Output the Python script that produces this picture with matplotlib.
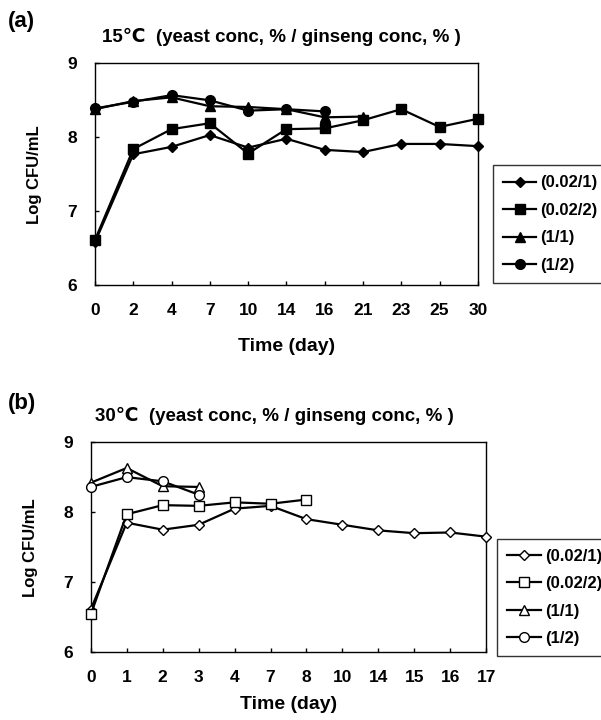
import numpy as np
import matplotlib
matplotlib.use("Agg")
import matplotlib.pyplot as plt

plt.rcParams['font.family'] = ['Liberation Sans', 'DejaVu Sans']
plt.rcParams['font.weight'] = 'bold'

# ---- panel (a): 15 C ----
days_a = ["0", "2", "4", "7", "10", "14", "16", "21", "23", "25", "30"]
a_002_1 = [6.58, 7.77, 7.87, 8.03, 7.86, 7.98, 7.83, 7.80, 7.91, 7.91, 7.88]
a_002_2 = [6.61, 7.84, 8.11, 8.19, 7.78, 8.11, 8.12, 8.23, 8.38, 8.14, 8.25]
a_1_1 = [8.38, 8.49, 8.54, 8.42, 8.41, 8.38, 8.27, 8.28]
a_1_2 = [8.39, 8.48, 8.57, 8.50, 8.36, 8.38, 8.35]

# ---- panel (b): 30 C ----
days_b = ["0", "1", "2", "3", "4", "7", "8", "10", "14", "15", "16", "17"]
b_002_1 = [6.61, 7.85, 7.75, 7.82, 8.05, 8.09, 7.90, 7.82, 7.74, 7.70, 7.71, 7.65]
b_002_2 = [6.54, 7.97, 8.10, 8.09, 8.14, 8.12, 8.18]
b_1_1 = [8.42, 8.63, 8.37, 8.36]
b_1_2 = [8.36, 8.50, 8.44, 8.25]

labels = ["(0.02/1)", "(0.02/2)", "(1/1)", "(1/2)"]
markers = ["D", "s", "^", "o"]
msizes = [5.5, 7, 7, 7]

fig = plt.figure(figsize=(6.01, 7.2), dpi=100)
axA = fig.add_axes([0.158, 0.604, 0.637, 0.308])
axB = fig.add_axes([0.151, 0.094, 0.658, 0.292])


def draw(ax, days, series, filled, title, tag, tag_y, title_x, title_y,
         leg_box, xpad):
    for vals, lab, m, ms in zip(series, labels, markers, msizes):
        x = np.arange(len(vals))
        ax.plot(x, vals, color="black", lw=1.6, marker=m, markersize=ms,
                markerfacecolor="black" if filled else "white",
                markeredgecolor="black", markeredgewidth=1.0,
                label=lab, clip_on=False, zorder=3)
    ax.set_xlim(0, len(days) - 1)
    ax.set_ylim(6, 9)
    ax.set_yticks([6, 7, 8, 9])
    ax.set_xticks(np.arange(len(days)))
    ax.set_xticklabels(days)
    ax.tick_params(axis="both", direction="in", length=3, width=1,
                   labelsize=12.5, pad=13)
    for t in ax.get_xticklabels() + ax.get_yticklabels():
        t.set_fontweight("bold")
    for s in ax.spines.values():
        s.set_linewidth(1.0)
    ax.set_ylabel("Log CFU/mL", fontsize=12, fontweight="bold", labelpad=18)
    ax.set_xlabel("Time (day)", fontsize=14, fontweight="bold", labelpad=xpad)
    fig.text(0.013, tag_y, tag, fontsize=16, fontweight="bold")
    fig.text(title_x, title_y, title, fontsize=13.5, fontweight="bold")
    leg = ax.legend(loc="upper left", bbox_to_anchor=leg_box, frameon=True,
                    fancybox=False, edgecolor="black", fontsize=12,
                    handlelength=2.0, handletextpad=0.25, labelspacing=0.75,
                    borderpad=0.6, borderaxespad=0)
    leg.get_frame().set_linewidth(1.0)
    for t in leg.get_texts():
        t.set_fontweight("bold")


draw(axA, days_a, [a_002_1, a_002_2, a_1_1, a_1_2], True,
     "15\u2103  (yeast conc, % / ginseng conc, % )", "(a)", 0.962, 0.170, 0.942,
     (1.04, 0.54), 14)
draw(axB, days_b, [b_002_1, b_002_2, b_1_1, b_1_2], False,
     "30\u2103  (yeast conc, % / ginseng conc, % )", "(b)", 0.432, 0.158, 0.415,
     (1.028, 0.54), 8)

fig.savefig("out.png", dpi=100)
